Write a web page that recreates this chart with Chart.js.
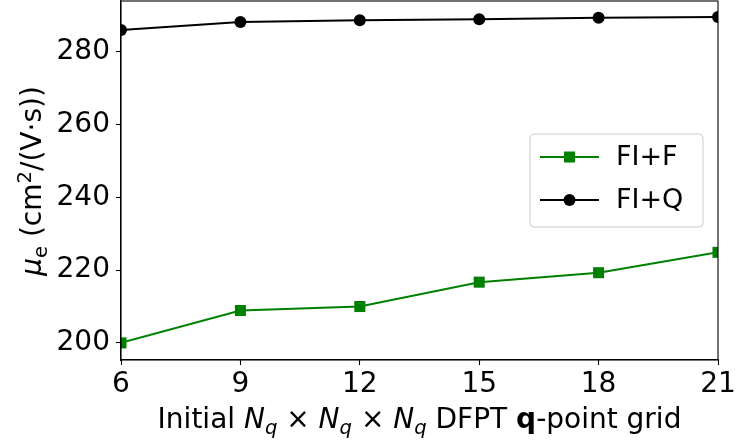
<!DOCTYPE html>
<html>
<head>
<meta charset="utf-8">
<script src="https://cdn.jsdelivr.net/npm/chart.js@4"></script>
<style>
  html, body { margin: 0; padding: 0; background: #fff; }
  #wrap { width: 738px; height: 444px; }
</style>
</head>
<body>
<div id="wrap"><canvas id="mobility"></canvas></div>
<script>
// q-point grid sizes and mobilities
const gridSizes = [6, 9, 12, 15, 18, 21];
const fiF = [200.0, 208.9, 210.0, 216.7, 219.3, 224.9];
const fiQ = [286.0, 288.2, 288.7, 289.0, 289.4, 289.6];
const yTicks = [200, 220, 240, 260, 280];
const xTicks = [6, 9, 12, 15, 18, 21];

const FONT = "'DejaVu Sans', sans-serif";
const pairs = (ys) => gridSizes.map((x, i) => ({ x: x, y: ys[i] }));

// draw a line of text made of styled pieces
function richText(ctx, parts, size) {
  let w = 0;
  parts.forEach(p => {
    const s = p.sub || p.sup ? size * 0.7 : size;
    ctx.font = (p.italic ? "italic " : "") + (p.bold ? "bold " : "") + s + "px " + FONT;
    p.w = ctx.measureText(p.t).width;
    p.s = s;
    w += p.w;
  });
  return w;
}
function drawRich(ctx, parts, size, x, y) {
  const w = richText(ctx, parts, size);
  let cx = x - w / 2;
  parts.forEach(p => {
    ctx.font = (p.italic ? "italic " : "") + (p.bold ? "bold " : "") + p.s + "px " + FONT;
    let dy = 0;
    if (p.sub) dy = size * 0.22;
    if (p.sup) dy = -size * 0.36;
    ctx.fillText(p.t, cx, y + dy);
    cx += p.w;
  });
}

const xTitle = [
  { t: "Initial " }, { t: "N", italic: true }, { t: "q", italic: true, sub: true },
  { t: " × " }, { t: "N", italic: true }, { t: "q", italic: true, sub: true },
  { t: " × " }, { t: "N", italic: true }, { t: "q", italic: true, sub: true },
  { t: " DFPT " }, { t: "q", bold: true }, { t: "-point grid" }
];
const yTitle = [
  { t: "μ", italic: true }, { t: "e", sub: true },
  { t: " (cm" }, { t: "2", sup: true }, { t: "/(V·s))" }
];

const decor = {
  id: "decor",
  afterDraw(chart) {
    const ctx = chart.ctx;
    const a = chart.chartArea;
    ctx.save();
    // frame
    ctx.strokeStyle = "#000";
    ctx.lineWidth = 1.1;
    ctx.strokeRect(a.left, a.top, a.right - a.left, a.bottom - a.top);

    // axis titles
    ctx.fillStyle = "#000";
    ctx.textBaseline = "alphabetic";
    drawRich(ctx, xTitle, 28, (a.left + a.right) / 2, 428);
    ctx.save();
    ctx.translate(41, 181);
    ctx.rotate(-Math.PI / 2);
    drawRich(ctx, yTitle, 28, 0, 0);
    ctx.restore();

    // legend
    const bx = 530, by = 134, bw = 173, bh = 93, r = 4;
    ctx.beginPath();
    ctx.moveTo(bx + r, by);
    ctx.arcTo(bx + bw, by, bx + bw, by + bh, r);
    ctx.arcTo(bx + bw, by + bh, bx, by + bh, r);
    ctx.arcTo(bx, by + bh, bx, by, r);
    ctx.arcTo(bx, by, bx + bw, by, r);
    ctx.closePath();
    ctx.fillStyle = "rgba(255,255,255,0.8)";
    ctx.fill();
    ctx.strokeStyle = "#cccccc";
    ctx.lineWidth = 1;
    ctx.stroke();

    const rows = [157, 200];
    chart.data.datasets.forEach((ds, i) => {
      const y = rows[i];
      ctx.strokeStyle = ds.borderColor;
      ctx.lineWidth = 2;
      ctx.beginPath();
      ctx.moveTo(540, y);
      ctx.lineTo(599, y);
      ctx.stroke();
      ctx.fillStyle = ds.borderColor;
      if (ds.pointStyle === "rect") {
        ctx.fillRect(569.5 - 5.5, y - 5.5, 11, 11);
      } else {
        ctx.beginPath();
        ctx.arc(569.5, y, 6, 0, Math.PI * 2);
        ctx.fill();
      }
      ctx.fillStyle = "#000";
      ctx.font = "27px " + FONT;
      ctx.textBaseline = "middle";
      ctx.fillText(ds.label, 616, y + 1);
    });
    ctx.restore();
  }
};

new Chart(document.getElementById("mobility"), {
  type: "line",
  data: {
    datasets: [
      {
        label: "FI+F",
        data: pairs(fiF),
        borderColor: "#008000",
        backgroundColor: "#008000",
        borderWidth: 2,
        pointStyle: "rect",
        pointRadius: 7.8,
        pointBorderWidth: 0,
        clip: 0
      },
      {
        label: "FI+Q",
        data: pairs(fiQ),
        borderColor: "#000000",
        backgroundColor: "#000000",
        borderWidth: 2,
        pointStyle: "circle",
        pointRadius: 6,
        pointBorderWidth: 0,
        clip: 0
      }
    ]
  },
  options: {
    responsive: true,
    maintainAspectRatio: false,
    animation: false,
    layout: { autoPadding: false, padding: { left: 0, top: 1, right: 20, bottom: 0 } },
    plugins: { legend: { display: false }, tooltip: { enabled: false } },
    scales: {
      x: {
        type: "linear",
        min: 6,
        max: 21,
        afterBuildTicks: (axis) => { axis.ticks = xTicks.map(v => ({ value: v })); },
        afterFit: (axis) => { axis.height = 84; axis.paddingLeft = 0; axis.paddingRight = 0; },
        grid: { drawOnChartArea: false, tickLength: 5, color: "#000", tickWidth: 1.1 },
        border: { color: "#000", width: 1.1 },
        ticks: { color: "#000", padding: 3, maxRotation: 0, font: { family: FONT, size: 28 } }
      },
      y: {
        min: 195.3,
        max: 294,
        afterBuildTicks: (axis) => { axis.ticks = yTicks.map(v => ({ value: v })); },
        afterFit: (axis) => { axis.width = 121; axis.paddingTop = 0; axis.paddingBottom = 0; },
        grid: { drawOnChartArea: false, tickLength: 5, color: "#000", tickWidth: 1.1 },
        border: { color: "#000", width: 1.1 },
        ticks: { color: "#000", padding: 6, font: { family: FONT, size: 28 } }
      }
    }
  },
  plugins: [decor]
});
</script>
</body>
</html>
